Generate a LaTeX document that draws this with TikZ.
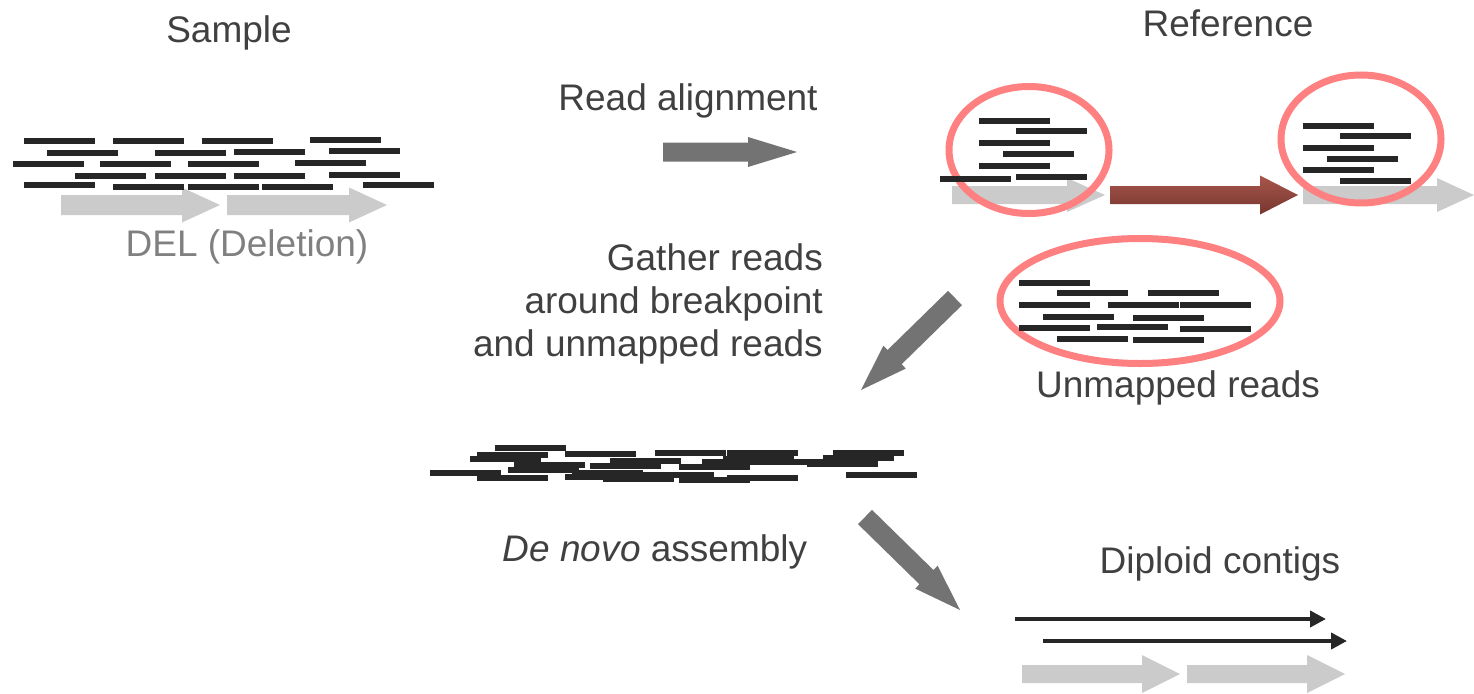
\documentclass[tikz,border=0pt]{standalone}
\usepackage{fontspec}
\setmainfont{Liberation Sans}
\usetikzlibrary{calc,arrows.meta}

\definecolor{txtgray}{RGB}{64,64,64}
\definecolor{delgray}{RGB}{128,128,128}
\definecolor{stepgray}{RGB}{115,115,115}
\definecolor{seggray}{RGB}{203,203,203}
\definecolor{readblack}{RGB}{38,38,38}
\definecolor{ringred}{RGB}{255,128,128}
\definecolor{brownTop}{RGB}{168,86,76}
\definecolor{brownBot}{RGB}{118,54,47}

% block arrow: [style]{tail}{tip}{shaft half width}{head half width}{head length}
\newcommand{\blockarrow}[6][fill=seggray]{%
  \coordinate (hb) at ($(#3)!#6!(#2)$);
  \path[#1] ($(#2)!#4!90:(#3)$) -- ($(hb)!#4!90:(#3)$) -- ($(hb)!#5!90:(#3)$) -- (#3)
    -- ($(hb)!#5!-90:(#3)$) -- ($(hb)!#4!-90:(#3)$) -- ($(#2)!#4!-90:(#3)$) -- cycle;
}

\tikzset{
  lbl/.style={font=\fontsize{37}{43}\selectfont, text=txtgray, inner sep=0pt},
  readline/.style={draw=readblack, line width=5.5pt},
  ring/.style={draw=ringred, line width=7pt},
  contig/.style={draw=readblack, line width=4.5pt, -{Triangle[length=16pt,width=16pt]}}
}

\begin{document}
\begin{tikzpicture}[x=1pt,y=1pt,yscale=-1]
  \useasboundingbox (0,0) rectangle (1474,693);

  % titles and captions
  \node[lbl, anchor=base] (sample) at (229,43) {Sample};
  \node[lbl, anchor=base] (reference) at (1228,37) {Reference};
  \node[lbl, anchor=base] (align) at (688,110) {Read alignment};
  \node[lbl, anchor=base, text=delgray] (del) at (247,256) {DEL (Deletion)};
  \node[lbl, anchor=base east, align=right] (gather) at (823,356) {Gather reads\\around breakpoint\\and unmapped reads};
  \node[lbl, anchor=base] (unmapped) at (1178,397) {Unmapped reads};
  \node[lbl, anchor=base] (denovo) at (655,561) {{\itshape De novo} assembly};
  \node[lbl, anchor=base] (diploid) at (1220,573) {Diploid contigs};

  % sample genome with the deletion
  \blockarrow{61,205}{220,205}{10pt}{17.5pt}{38pt}
  \blockarrow{227,205}{387,205}{10pt}{17.5pt}{38pt}
  \foreach \x/\y in {24/141,113/141,202/141,310/140,
                     47/153,155/153,234/152,329/151,
                     13/164,100/164,188/164,295/163,
                     75/176,155/176,234/176,329/175,
                     24/185,113/187,188/187,262/187,363/185}
    \draw[readline] (\x,\y) -- ++(71,0);

  % reference with breakpoints
  \blockarrow{952,195}{1105,195}{9pt}{17pt}{38pt}
  \blockarrow{1303,195}{1474,195}{9pt}{17pt}{37pt}
  \blockarrow[top color=brownTop,bottom color=brownBot]{1110,195}{1298,195}{9pt}{19.5pt}{38pt}
  \draw[ring] (1029,150) ellipse [x radius=80, y radius=63.5];
  \draw[ring] (1361,139) ellipse [x radius=80, y radius=64];
  \draw[ring] (1140,301) ellipse [x radius=140, y radius=62.5];
  \foreach \x/\y in {979/121,1016/131,979/143,1003/154,979/166,1016/177,940/179,
                     1303/126,1340/136,1303/148,1327/159,1303/170,1340/181,
                     1019/283,1057/293,1148/293,1019/305,1108/305,1180/305,
                     1043/317,1133/318,1019/328,1097/327,1180/329,1057/339,1133/340}
    \draw[readline] (\x,\y) -- ++(71,0);

  % reads for the assembly
  \foreach \x/\y in {495/448,477/455,470/459,565/454,655/453,727/453,833/453,
                     823/458,610/461,723/459,702/462,753/462,807/464,514/465,
                     590/466,679/467,508/470,430/473,572/473,643/475,477/478,
                     565/477,603/479,679/480,727/478,846/475}
    \draw[readline] (\x,\y) -- ++(71,0);

  % contigs
  \coordinate (c1s) at (1015,619);
  \coordinate (c1e) at (1326,619);
  \coordinate (c2s) at (1043,641);
  \coordinate (c2e) at (1347,641);
  \draw[contig] (c1s) -- (c1e);
  \draw[contig] (c2s) -- (c2e);
  \blockarrow{1022,674}{1180,674}{9pt}{19pt}{38pt}
  \blockarrow{1187,674}{1345,674}{9pt}{19pt}{38pt}

  % process steps
  \coordinate (alignTail) at (663,152);
  \coordinate (alignTip) at (797,152);
  \coordinate (gatherTail) at (955,298);
  \coordinate (gatherTip) at (861,390);
  \coordinate (asmTail) at (865,517);
  \coordinate (asmTip) at (960,610);
  \blockarrow[fill=stepgray]{alignTail}{alignTip}{9.5pt}{15pt}{49pt}
  \blockarrow[fill=stepgray]{gatherTail}{gatherTip}{10pt}{16pt}{47pt}
  \blockarrow[fill=stepgray]{asmTail}{asmTip}{10pt}{16pt}{47pt}
\end{tikzpicture}
\end{document}
